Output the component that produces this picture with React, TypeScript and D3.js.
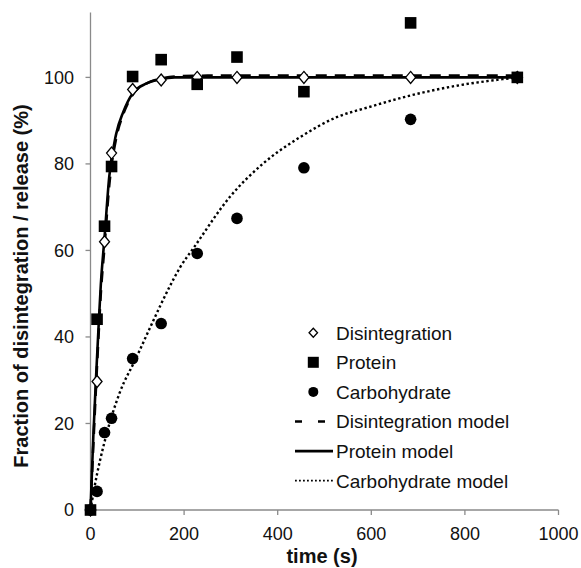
import React from "react";
import * as d3 from "d3";

const times = [0, 14, 30, 45, 90, 151, 228, 313, 456, 684, 912];
const disintegration = [0, 29.7, 62, 82.5, 97.2, 99.4, 100, 100, 100, 100, 100];
const protein = [0, 44.1, 65.6, 79.4, 100.2, 104.1, 98.4, 104.7, 96.7, 112.6, 100];
const carbohydrate = [0, 4.3, 17.9, 21.2, 35, 43.1, 59.3, 67.4, 79.1, 90.3, 100];

const proteinModelT = [0, 6, 12, 18, 22, 30, 40, 55, 70, 90, 120, 150, 180, 250, 912];
const proteinModelY = [0, 17, 31, 44, 52, 63, 77, 87, 92, 96.3, 98.6, 99.6, 100, 100, 100];
const disModelT = [0, 6, 12, 18, 22, 30, 40, 55, 70, 90, 120, 150, 180, 250, 912];
const disModelY = [0, 15, 29, 42, 50, 61, 75, 86, 91.5, 96, 98.6, 99.7, 100.2, 100.4, 100.4];
const carbModelT = [0, 8, 33, 62, 97, 133, 168, 191, 223, 298, 369, 448, 526, 594, 683, 789, 889, 912];
const carbModelY = [0, 5, 17, 27, 35, 43.5, 51.4, 56, 61, 72.4, 80.1, 86.2, 90.8, 93.1, 95.8, 98.2, 99.7, 100];

const xTicks = [0, 200, 400, 600, 800, 1000];
const yTicks = [0, 20, 40, 60, 80, 100];

const legendLabels = [
  "Disintegration",
  "Protein",
  "Carbohydrate",
  "Disintegration model",
  "Protein model",
  "Carbohydrate model",
];

const W = 581;
const H = 568;
const FONT = "'Liberation Sans', Arial, sans-serif";
const AXIS = "#8a8a8a";

export default function App() {
  const x = d3.scaleLinear().domain([0, 1000]).range([90.5, 558.5]);
  const y = d3.scaleLinear().domain([0, 115]).range([510, 12.5]);

  const line = d3
    .line<[number, number]>()
    .x((d) => x(d[0]))
    .y((d) => y(d[1]))
    .curve(d3.curveMonotoneX);

  const zip = (a: number[], b: number[]) => a.map((v, i) => [v, b[i]] as [number, number]);

  const diamond = (cx: number, cy: number, w: number, h: number) =>
    `M${cx},${cy - h / 2}L${cx + w / 2},${cy}L${cx},${cy + h / 2}L${cx - w / 2},${cy}Z`;

  const legendY = d3.scaleLinear().domain([0, 5]).range([332.7, 480.7]);
  const lmx = 313.3;

  return (
    <div style={{ position: "absolute", left: 0, top: 0 }}>
      <svg width={W} height={H} style={{ display: "block", background: "#fff" }} fontFamily={FONT}>
        <rect width={W} height={H} fill="#fff" />
        {/* axes */}
        <line x1={x(0)} x2={x(1000)} y1={y(0)} y2={y(0)} stroke={AXIS} strokeWidth={1.3} />
        <line x1={x(0)} x2={x(0)} y1={y(0)} y2={y(115)} stroke={AXIS} strokeWidth={1.3} />
        {xTicks.map((t) => (
          <g key={"xt" + t}>
            <line x1={x(t)} x2={x(t)} y1={y(0)} y2={y(0) + 5} stroke={AXIS} strokeWidth={1.3} />
            <text x={x(t)} y={540} fontSize={18} textAnchor="middle" fill="#111">
              {t}
            </text>
          </g>
        ))}
        {yTicks.map((t) => (
          <g key={"yt" + t}>
            <line x1={x(0) - 5} x2={x(0)} y1={y(t)} y2={y(t)} stroke={AXIS} strokeWidth={1.3} />
            <text x={74} y={y(t)} dy="0.36em" fontSize={18} textAnchor="end" fill="#111">
              {t}
            </text>
          </g>
        ))}
        <text x={322} y={563} fontSize={20} fontWeight="bold" textAnchor="middle" fill="#111">
          time (s)
        </text>
        <text
          transform={`translate(28,286) rotate(-90)`}
          fontSize={20}
          fontWeight="bold"
          textAnchor="middle"
          fill="#111"
        >
          Fraction of disintegration / release (%)
        </text>

        {/* model curves */}
        <path d={line(zip(carbModelT, carbModelY)) || ""} fill="none" stroke="#000" strokeWidth={2.4} strokeDasharray="2.4 2.6" />
        <path d={line(zip(proteinModelT, proteinModelY)) || ""} fill="none" stroke="#000" strokeWidth={2.6} />
        <path d={line(zip(disModelT, disModelY)) || ""} fill="none" stroke="#000" strokeWidth={2.6} strokeDasharray="11 8" />

        {/* points */}
        {times.map((t, i) => (
          <circle key={"c" + i} cx={x(t)} cy={y(carbohydrate[i])} r={5.8} fill="#000" />
        ))}
        {times.map((t, i) => (
          <path key={"d" + i} d={diamond(x(t), y(disintegration[i]), 10, 12)} fill="#fff" stroke="#000" strokeWidth={1.3} />
        ))}
        {times.map((t, i) => (
          <rect key={"s" + i} x={x(t) - 5.8} y={y(protein[i]) - 5.8} width={11.6} height={11.6} fill="#000" />
        ))}

        {/* legend */}
        {legendLabels.map((lab, i) => (
          <text key={"l" + i} x={336} y={legendY(i)} dy="0.36em" fontSize={19} fill="#111">
            {lab}
          </text>
        ))}
        <path d={diamond(lmx, legendY(0), 8.5, 9)} fill="#fff" stroke="#000" strokeWidth={1.3} />
        <rect x={lmx - 5.5} y={legendY(1) - 5.5} width={11} height={11} fill="#000" />
        <circle cx={lmx} cy={legendY(2)} r={5} fill="#000" />
        <line x1={295} x2={333} y1={legendY(3)} y2={legendY(3)} stroke="#000" strokeWidth={2.6} strokeDasharray="7 16" />
        <line x1={295} x2={333} y1={legendY(4)} y2={legendY(4)} stroke="#000" strokeWidth={2.6} />
        <line x1={295} x2={333} y1={legendY(5)} y2={legendY(5)} stroke="#000" strokeWidth={1.8} strokeDasharray="1.8 2.2" />
      </svg>
    </div>
  );
}
